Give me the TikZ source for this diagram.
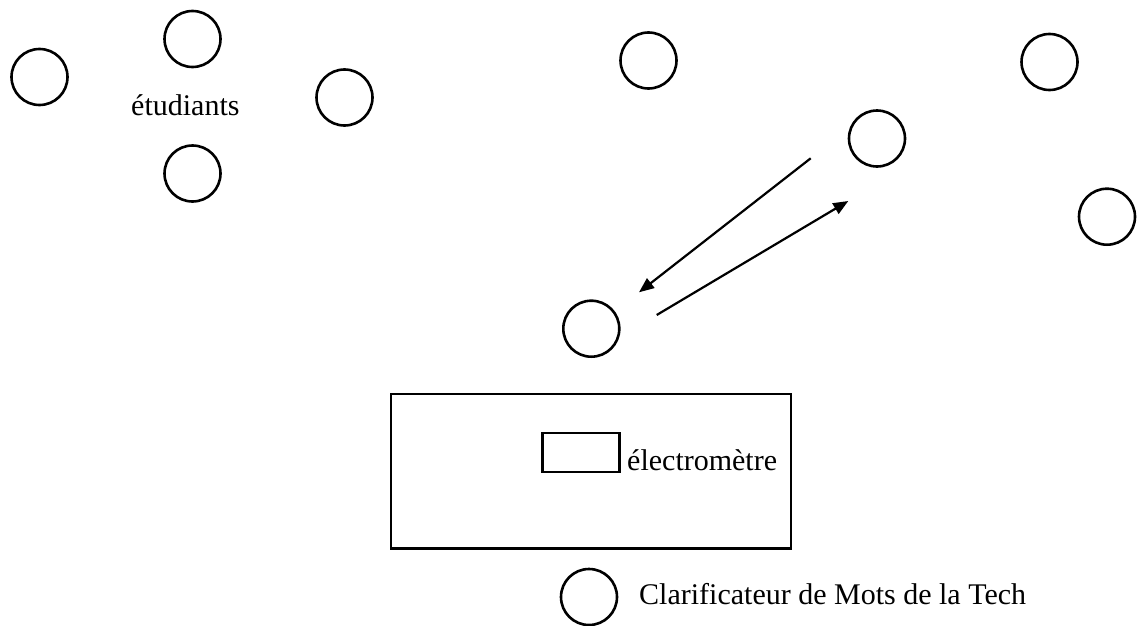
\documentclass[tikz,border=0pt]{standalone}
\usepackage{fontspec}
\setmainfont{Liberation Serif}
\usetikzlibrary{arrows.meta}
\begin{document}
\begin{tikzpicture}[x=1pt,y=-1pt,
  person/.style={draw,circle,line width=2.6pt,minimum size=56pt,inner sep=0pt},
  box/.style={draw,line width=2.4pt},
  lbl/.style={anchor=base west,inner sep=0pt,font=\fontsize{30}{36}\selectfont},
  flow/.style={line width=2.2pt,-{Triangle[length=15pt,width=12pt]}}]
\useasboundingbox (0,0) rectangle (1137,626);
\node[person] (c1) at (39.5,77) {};
\node[person] (c2) at (192.5,39) {};
\node[person] (c3) at (344.5,97.5) {};
\node[person] (c4) at (192.5,173.5) {};
\node[person] (c5) at (648.5,60.5) {};
\node[person] (c6) at (1049.5,62) {};
\node[person] (c7) at (877,138.5) {};
\node[person] (c8) at (1107,216.7) {};
\node[person] (c9) at (591.3,328.7) {};
\node[person] (c10) at (589,597) {};
\node[lbl] (etu) at (131,115) {étudiants};
\draw[box] (390.7,394) rectangle (790.7,548.3);
\node[box,minimum width=77pt,minimum height=39pt,inner sep=0pt] (elec) at (580.8,452.2) {};
\node[lbl] (eleclbl) at (627,470.5) {électromètre};
\node[lbl] (clar) at (639,604) {Clarificateur de Mots de la Tech};
\coordinate (a1s) at (810.7,158.3);
\coordinate (a1e) at (639,292.3);
\coordinate (a2s) at (656.7,315);
\coordinate (a2e) at (848.3,201);
\draw[flow] (a1s) -- (a1e);
\draw[flow] (a2s) -- (a2e);
\end{tikzpicture}
\end{document}
